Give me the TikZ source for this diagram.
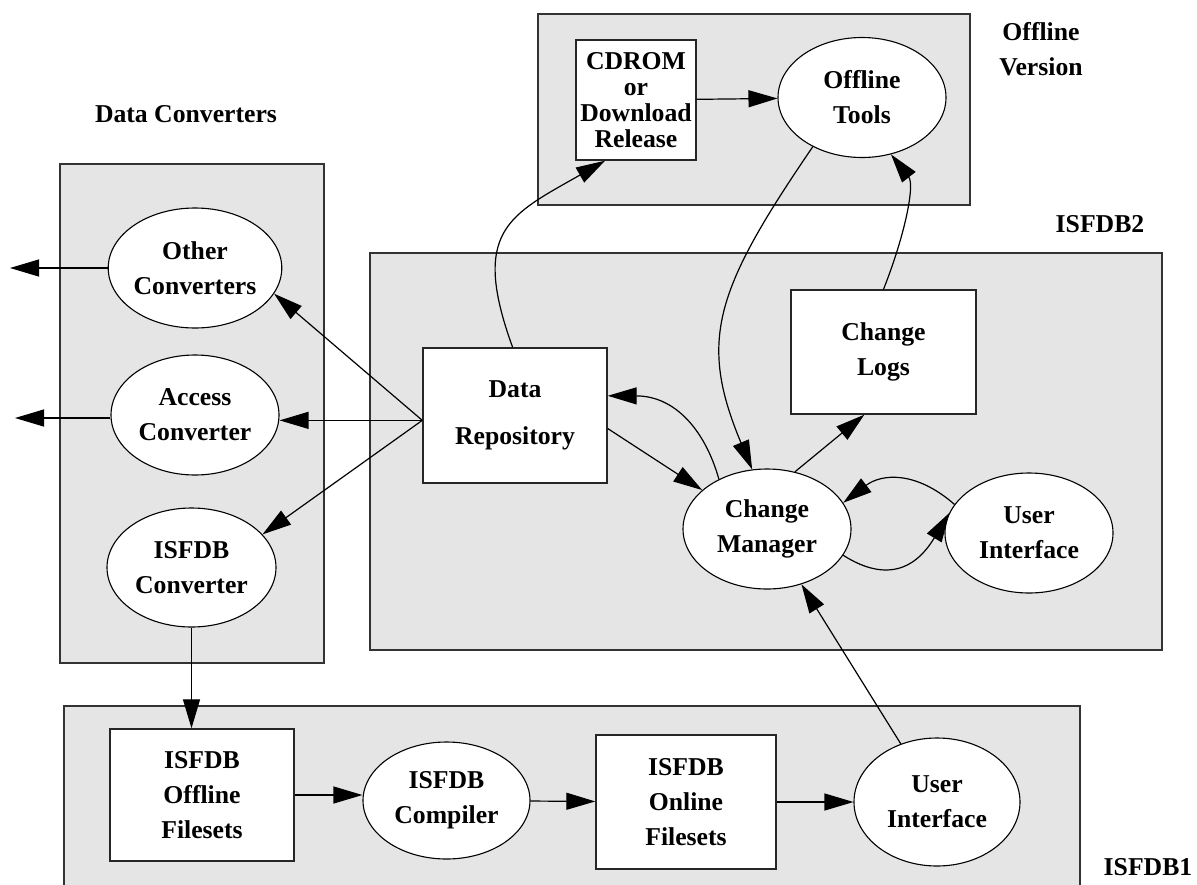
\documentclass[tikz,border=0pt]{standalone}
\usepackage{fontspec}
\setmainfont{Liberation Serif}
\usetikzlibrary{shapes.geometric,arrows.meta}

\begin{document}
\begin{tikzpicture}[x=1pt,y=-1pt,>={Triangle[length=29pt,width=17pt]},font=\fontsize{25.7}{35}\selectfont\bfseries]
\tikzstyle{grp} = [rectangle, draw=black!80, line width=1.6pt, fill=black!10, inner sep=0pt]
\tikzstyle{box} = [rectangle, draw=black!85, line width=1.4pt, fill=white, align=center, inner sep=0pt]
\tikzstyle{oval} = [ellipse, draw=black, line width=1.1pt, fill=white, align=center, inner sep=0pt, minimum width=168pt, minimum height=120pt]
\tikzstyle{link} = [->, line width=1.2pt]
\useasboundingbox (0,0) rectangle (1197,884);

% group boxes
\node (Goff) [grp, minimum width=432pt, minimum height=191pt] at (754,109.5) {};
\node (Gconv) [grp, minimum width=264pt, minimum height=499pt] at (192,413.5) {};
\node (Gtwo) [grp, minimum width=792pt, minimum height=397pt] at (766,451.5) {};
\node (Gone) [grp, minimum width=1016pt, minimum height=220pt] at (572,816) {};
\node (Loff) [align=center] at (1041,49) {Offline\\Version};
\node (Lconv) at (186,114) {Data Converters};
\node (Ltwo) at (1100,224) {ISFDB2};
\node (Lone) at (1148,867) {ISFDB1};

% offline version
\node (CD) [box, minimum width=120pt, minimum height=120pt, font=\fontsize{25.7}{26}\selectfont\bfseries] at (636,100) {CDROM\\or\\Download\\Release};
\node (OT) [oval] at (862,97.5) {Offline\\Tools};

% converters
\node (OC) [oval] at (195,268) {Other\\Converters};
\node (AC) [oval] at (195,415) {Access\\Converter};
\node (IC) [oval, minimum width=169pt, minimum height=119pt] at (191.5,567.5) {ISFDB\\Converter};
\coordinate (exOC) at (10,268);
\coordinate (exAC) at (15,418);

% isfdb2
\node (DR) [box, minimum width=184pt, minimum height=135pt] at (515,415.5) {Data\\[12pt]Repository};
\node (CL) [box, minimum width=185pt, minimum height=124pt] at (883.5,352) {Change\\Logs};
\node (CM) [oval] at (767,529) {Change\\Manager};
\node (UI) [oval] at (1029,533) {User\\Interface};

% isfdb1
\node (OF) [box, minimum width=184pt, minimum height=132pt] at (202,795) {ISFDB\\Offline\\Filesets};
\node (CP) [oval, minimum width=167pt, minimum height=117pt] at (446.5,800.5) {ISFDB\\Compiler};
\node (ON) [box, minimum width=180pt, minimum height=134pt] at (686,802) {ISFDB\\Online\\Filesets};
\node (UB) [oval, minimum width=166pt, minimum height=128pt] at (937,802) {User\\Interface};

\draw[link] (CD) -- (OT);
\draw[link] (DR.92) .. controls (470,230) and (510,215) .. (CD.243);
\draw[link] (DR.183) -- (OC.342);
\draw[link] (DR.183) -- (DR.183 -| AC.east);
\draw[link] (DR.183) -- (IC.25);
\draw[link] (OC.west) -- (exOC);
\draw[link] (AC.west |- exAC) -- (exAC);
\draw[link] (DR.352) -- (CM.149);
\draw[link] (CM.134) .. controls (705,430) and (675,396) .. (DR.12);
\draw[link] (CM.64) -- (CL.253);
\draw[link] (OT.225) .. controls (715,290) and (698,340) .. (CM.104);
\draw[link] (CL.north) .. controls (905,235) and (915,185) .. (OT.297);
\draw[link] (UI.159) .. controls (915,470) and (881,474) .. (CM.19);
\draw[link] (CM.341) .. controls (874,575) and (909,580) .. (UI.166);
\draw[link] (IC.south) -- (IC.south |- OF.north);
\draw[link] (OF.east) -- (OF.east -| CP.west);
\draw[link] (CP) -- (ON);
\draw[link] (ON) -- (UB);
\draw[link] (UB) -- (CM);
\end{tikzpicture}
\end{document}
